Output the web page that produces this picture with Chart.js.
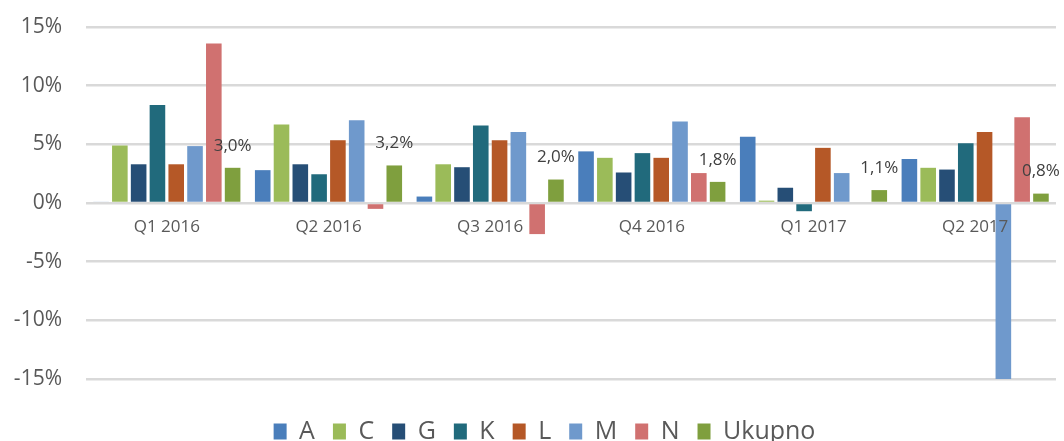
<!DOCTYPE html>
<html>
<head>
<meta charset="utf-8">
<script src="https://cdn.jsdelivr.net/npm/chart.js@4/dist/chart.umd.min.js"></script>
<style>
  html, body { margin: 0; padding: 0; background: #fff; }
  #wrap { width: 1064px; height: 441px; }
</style>
</head>
<body>
<div id="wrap"><canvas id="barChart"></canvas></div>
<script>
// Quarters on the x axis
const quarters = ['Q1 2016', 'Q2 2016', 'Q3 2016', 'Q4 2016', 'Q1 2017', 'Q2 2017'];

// Growth per sector, in percent
const seriesA = [0.1, 2.8, 0.55, 4.4, 5.65, 3.75];
const seriesC = [4.9, 6.7, 3.3, 3.85, 0.2, 3.0];
const seriesG = [3.3, 3.3, 3.05, 2.6, 1.3, 2.85];
const seriesK = [8.35, 2.45, 6.6, 4.25, -0.7, 5.1];
const seriesL = [3.3, 5.35, 5.35, 3.85, 4.7, 6.05];
const seriesM = [4.85, 7.05, 6.05, 6.95, 2.55, -15.1];
const seriesN = [13.6, -0.5, -2.65, 2.55, 0, 7.3];
const seriesUkupno = [3.0, 3.2, 2.0, 1.8, 1.1, 0.8];

const yTicks = [-15, -10, -5, 0, 5, 10, 15];

const font = '"Open Sans", "DejaVu Sans", sans-serif';

// Only the "Ukupno" series gets a value label above its bar
const ukupnoLabels = {
    id: 'ukupnoLabels',
    afterLayout(chart) {
        // legend sits a bit right of the canvas centre
        chart.legend.left += 33;
    },
    afterDatasetsDraw(chart) {
        const ctx = chart.ctx;
        const idx = chart.data.datasets.findIndex(d => d.label === 'Ukupno');
        const meta = chart.getDatasetMeta(idx);
        ctx.save();
        ctx.font = '17px ' + font;
        ctx.fillStyle = '#404040';
        ctx.textAlign = 'center';
        ctx.textBaseline = 'middle';
        meta.data.forEach((bar, i) => {
            const txt = seriesUkupno[i].toFixed(1).replace('.', ',') + '%';
            ctx.fillText(txt, bar.x, bar.y - 22);
        });
        ctx.restore();
    }
};

const ctx = document.getElementById('barChart').getContext('2d');

new Chart(ctx, {
    type: 'bar',
    data: {
        labels: quarters,
        datasets: [
            { label: 'A', data: seriesA, backgroundColor: '#4a7ebb' },
            { label: 'C', data: seriesC, backgroundColor: '#9bbb59' },
            { label: 'G', data: seriesG, backgroundColor: '#264e76' },
            { label: 'K', data: seriesK, backgroundColor: '#216a7c' },
            { label: 'L', data: seriesL, backgroundColor: '#b55827' },
            { label: 'M', data: seriesM, backgroundColor: '#6f99cc' },
            { label: 'N', data: seriesN, backgroundColor: '#d07170' },
            { label: 'Ukupno', data: seriesUkupno, backgroundColor: '#7f9f3e' }
        ]
    },
    options: {
        responsive: true,
        maintainAspectRatio: false,
        animation: false,
        datasets: {
            bar: { categoryPercentage: 0.93, barPercentage: 0.83, borderWidth: 0 }
        },
        layout: { padding: { top: 27, right: 8, left: 0, bottom: -13 } },
        plugins: {
            tooltip: { enabled: false },
            legend: {
                position: 'bottom',
                // empty title only adds room between the plot and the legend
                title: { display: true, text: '', font: { size: 10 }, padding: 5 },
                labels: {
                    boxWidth: 13,
                    boxHeight: 16,
                    padding: 18,
                    color: '#595959',
                    font: { family: font, size: 25 }
                }
            }
        },
        scales: {
            x: {
                position: { y: 0 },
                grid: { display: false, drawTicks: false },
                border: { display: false },
                ticks: {
                    z: 1,
                    padding: 14,
                    color: '#595959',
                    font: { family: font, size: 17 }
                }
            },
            y: {
                min: -15,
                max: 15,
                afterBuildTicks: s => { s.ticks = yTicks.map(v => ({ value: v })); },
                afterFit: s => { s.width = 86; s.paddingTop = 0; s.paddingBottom = 0; },
                grid: { color: '#d9d9d9', lineWidth: 2.5, drawTicks: false },
                border: { display: false },
                ticks: {
                    padding: 24,
                    color: '#595959',
                    font: { family: font, size: 21 },
                    callback: v => v + '%'
                }
            }
        }
    },
    plugins: [ukupnoLabels]
});
</script>
</body>
</html>
